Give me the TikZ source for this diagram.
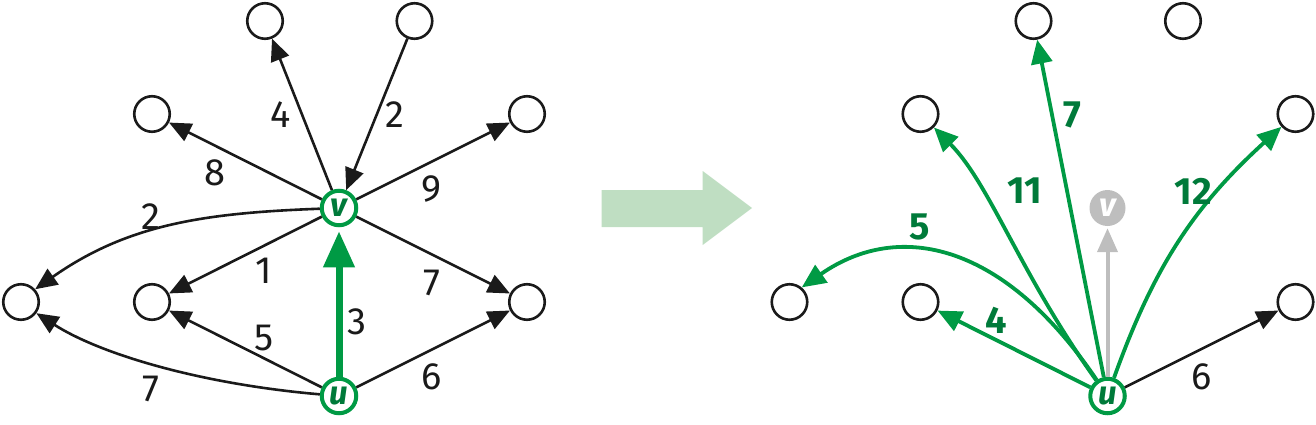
\documentclass[tikz,border=0pt]{standalone}
\usepackage{fontspec}
\setmainfont{Fira Sans}
\usetikzlibrary{arrows.meta}
\definecolor{gr}{HTML}{009A44}
\definecolor{dgr}{HTML}{007A3A}
\definecolor{ink}{HTML}{1A1A1A}
\definecolor{lgray}{HTML}{BEBEBE}
\definecolor{pale}{HTML}{BFDEC2}
\tikzset{
  vtx/.style={circle, draw=ink, line width=2.6pt, fill=white, minimum size=35.5pt, inner sep=0pt},
  gvtx/.style={circle, draw=gr, line width=4pt, fill=white, minimum size=34.5pt, inner sep=0pt,
     text=dgr, font=\fontsize{33}{33}\selectfont\bfseries\itshape},
  grayvtx/.style={circle, fill=lgray, minimum size=36pt, inner sep=0pt,
     text=white, font=\fontsize{33}{33}\selectfont\bfseries\itshape},
  edge/.style={draw=ink, line width=2.6pt, -{Triangle[length=22pt,width=19pt]}},
  gedge/.style={draw=gr, line width=3.8pt, -{Triangle[length=24pt,width=21pt]}},
  thickg/.style={draw=gr, line width=7pt, -{Triangle[length=36pt,width=30pt]}},
  grayedge/.style={draw=lgray, line width=4pt, -{Triangle[length=24pt,width=20pt]}},
  lab/.style={inner sep=0pt, text=ink, font=\fontsize{38}{38}\selectfont},
  glab/.style={inner sep=0pt, text=dgr, font=\fontsize{38}{38}\selectfont\bfseries},
}
\begin{document}
\begin{tikzpicture}[x=1pt,y=1pt]
\useasboundingbox (0,0) rectangle (1316,424);
% ---------- left graph ----------
\node[vtx] (lt1) at (265,403) {};
\node[vtx] (lt2) at (414.5,403) {};
\node[vtx] (lC) at (152,310) {};
\node[vtx] (lD) at (527,310) {};
\node[gvtx] (lv) at (339,216) {v};
\node[vtx] (lE) at (21,122) {};
\node[vtx] (lF) at (152,122) {};
\node[vtx] (lG) at (527,122) {};
\node[gvtx] (lu) at (339,28) {u};

\draw[edge] (lv) -- (lt1);
\draw[edge] (lt2) -- (lv);
\draw[edge] (lv) -- (lC);
\draw[edge] (lv) -- (lD);
\draw[edge] (lv) .. controls (205,211) and (128,200) .. (lE.42);
\draw[edge] (lv) -- (lF);
\draw[edge] (lv) -- (lG);
\draw[thickg, shorten >=4pt] (lu) -- (lv);
\draw[edge] (lu) -- (lF);
\draw[edge] (lu) .. controls (200,40) and (100,70) .. (lE.-36);
\draw[edge] (lu) -- (lG);

\node[lab] (l4) at (281,309) {4};
\node[lab] (l2a) at (395,309) {2};
\node[lab] (l8) at (215,251) {8};
\node[lab] (l9) at (431,235) {9};
\node[lab] (l2b) at (151,207) {2};
\node[lab] (l1) at (264,153) {1};
\node[lab] (l7a) at (432,141) {7};
\node[lab] (l3) at (357,102) {3};
\node[lab] (l5) at (264,86) {5};
\node[lab] (l7b) at (151,35) {7};
\node[lab] (l6) at (432,47) {6};

% ---------- big arrow ----------
\fill[pale] (601.7,234) -- (702.7,234) -- (702.7,253) -- (752,216) -- (702.7,179)
  -- (702.7,197) -- (601.7,197) -- cycle;

% ---------- right graph ----------
\node[vtx] (rt1) at (1033.5,403) {};
\node[vtx] (rt2) at (1183,403) {};
\node[vtx] (rC) at (920.5,310) {};
\node[vtx] (rD) at (1295.5,310) {};
\node[grayvtx] (rv) at (1107.5,216) {v};
\node[vtx] (rE) at (789.5,122) {};
\node[vtx] (rF) at (920.5,122) {};
\node[vtx] (rG) at (1295.5,122) {};
\node[gvtx] (ru) at (1107.5,28) {u};

\draw[grayedge, shorten >=2pt] (ru) -- (rv);
\draw[gedge] (ru) -- (rt1);
\draw[gedge] (ru) .. controls (1020,150) and (990,240) .. (rC);
\draw[gedge] (ru) to[bend left=14] (rD);
\draw[gedge] (ru) .. controls (1005,180) and (900,205) .. (rE.50);
\draw[gedge] (ru) -- (rF);
\draw[edge] (ru) -- (rG);

\node[glab] (r7) at (1072,309) {7};
\node[glab] (r11) at (1025,233) {11};
\node[glab] (r12) at (1193.5,233) {12};
\node[glab] (r5) at (920,197) {5};
\node[glab] (r4) at (996,104) {4};
\node[lab] (r6) at (1202,47) {6};
\end{tikzpicture}
\end{document}
